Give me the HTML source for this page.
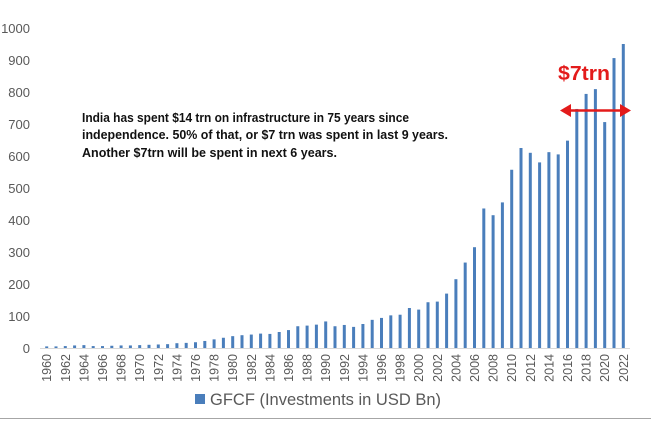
<!DOCTYPE html>
<html><head><meta charset="utf-8"><style>
html,body{margin:0;padding:0;background:#fff;}
svg{display:block;font-family:"Liberation Sans",sans-serif;}
</style></head><body>
<svg width="651" height="422" viewBox="0 0 651 422" xmlns="http://www.w3.org/2000/svg">
<rect width="651" height="422" fill="#fff"/>
<g fill="#595959" font-size="13" text-anchor="end">
<text x="30" y="33">1000</text><text x="30" y="65">900</text><text x="30" y="97">800</text>
<text x="30" y="129">700</text><text x="30" y="161">600</text><text x="30" y="193">500</text>
<text x="30" y="225">400</text><text x="30" y="257">300</text><text x="30" y="289">200</text>
<text x="30" y="321">100</text><text x="30" y="353">0</text>
</g>
<g id="bars" fill="#4a7ebb"></g>
<g id="labs" fill="#595959" font-size="12.5"></g>
<line x1="40" y1="348.5" x2="630" y2="348.5" stroke="#d9d9d9" stroke-width="1"/>
<rect x="195" y="394" width="10" height="10" fill="#4a7ebb"/>
<text x="210" y="405" font-size="17" fill="#595959" textLength="231" lengthAdjust="spacingAndGlyphs">GFCF (Investments in USD Bn)</text>
<line x1="0" y1="418.5" x2="651" y2="418.5" stroke="#a6a6a6" stroke-width="1"/>
<g font-weight="bold" font-size="13" fill="#111">
<text x="82" y="122" textLength="327" lengthAdjust="spacingAndGlyphs">India has spent $14 trn on infrastructure in 75 years since</text>
<text x="82" y="139" textLength="366" lengthAdjust="spacingAndGlyphs">independence. 50% of that, or $7 trn was spent in last 9 years.</text>
<text x="82" y="157" textLength="255" lengthAdjust="spacingAndGlyphs">Another $7trn will be spent in next 6 years.</text>
</g>
<text x="558" y="80" font-size="20" font-weight="bold" fill="#e31b1b" textLength="52" lengthAdjust="spacingAndGlyphs">$7trn</text>
<line x1="566" y1="110.5" x2="622" y2="110.5" stroke="#e31b1b" stroke-width="2.5"/>
<polygon points="560,110.5 571,104 571,117" fill="#e31b1b"/>
<polygon points="631,110.5 620,104 620,117" fill="#e31b1b"/>
</svg>
<script>
var v=[5,5,6,8,9,6,6,7,8,8,9,10,11,12,15,16,18,22,27,32,37,40,42,45,44,50,56,68,70,73,83,68,72,66,75,88,94,102,104,125,120,143,145,170,215,267,315,436,415,455,557,625,610,580,612,605,648,747,794,809,706,906,950];
var b=document.getElementById('bars'),l=document.getElementById('labs'),ns="http://www.w3.org/2000/svg",h='';
var L='';
for(var i=0;i<v.length;i++){var x=46.7+i*9.3,hh=v[i]*0.32;
h+='<rect x="'+(x-1.5).toFixed(2)+'" y="'+(348-hh).toFixed(2)+'" width="3" height="'+hh.toFixed(2)+'"/>';
if(i%2==0){L+='<text transform="translate('+(x+4.5).toFixed(2)+',354) rotate(-90)" text-anchor="end">'+(1960+i)+'</text>';}}
b.innerHTML=h;l.innerHTML=L;
</script>
</body></html>
